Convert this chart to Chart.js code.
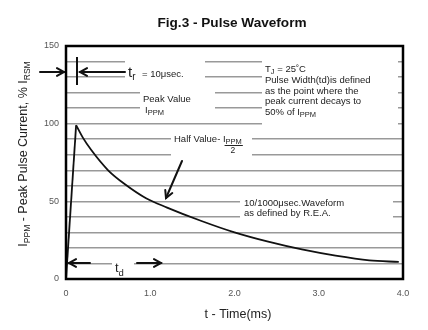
<!DOCTYPE html>
<html><head><meta charset="utf-8">
<script src="https://cdn.jsdelivr.net/npm/chart.js@4/dist/chart.umd.min.js"></script>
<style>html,body{margin:0;padding:0;background:#fff}#wrap{width:428px;height:330px}</style>
</head><body><div id="wrap"><canvas id="c" width="428" height="330"></canvas></div>
<script>
// ---- data ----
const chartTitle = "Fig.3 - Pulse Waveform";
const timeMs     = [0, 0.12, 0.2, 0.3, 0.5, 0.7, 0.95, 1.2, 1.6, 2.0, 2.4, 2.8, 3.2, 3.6, 3.95];
const currentPct = [0, 99,   91,  83,  70,  61,  52,   46,  37.5, 30, 24,  19,  15,  12,  11];
const xTickValues = [0, 1, 2, 3, 4];
const xTickLabels = ["0", "1.0", "2.0", "3.0", "4.0"];
const yTickValues = [0, 50, 100, 150];
const xTitle = "t - Time(ms)";

const FONT = "'Liberation Sans', Arial, sans-serif";
const points = timeMs.map((t, i) => ({x: t, y: currentPct[i]}));
const risePts = points.slice(0, 2);
const decayPts = points.slice(1);

function rich(ctx, x, y, parts, color) {
  let cx = x;
  for (const p of parts) {
    ctx.font = (p.bold ? 'bold ' : '') + p.size + 'px ' + FONT;
    ctx.fillStyle = color || '#222';
    ctx.textAlign = 'left';
    ctx.textBaseline = 'alphabetic';
    ctx.fillText(p.t, cx, y + (p.dy || 0));
    cx += ctx.measureText(p.t).width;
  }
  return cx;
}
function richWidth(ctx, parts) {
  let w = 0;
  for (const p of parts) { ctx.font = p.size + 'px ' + FONT; w += ctx.measureText(p.t).width; }
  return w;
}
function arrow(ctx, x1, y1, x2, y2) {
  ctx.save();
  ctx.strokeStyle = '#111'; ctx.lineWidth = 2; ctx.lineCap = 'round';
  ctx.beginPath(); ctx.moveTo(x1, y1); ctx.lineTo(x2, y2); ctx.stroke();
  const a = Math.atan2(y2 - y1, x2 - x1), L = 8, s = 0.5;
  ctx.beginPath();
  ctx.moveTo(x2 - L * Math.cos(a - s), y2 - L * Math.sin(a - s));
  ctx.lineTo(x2, y2);
  ctx.lineTo(x2 - L * Math.cos(a + s), y2 - L * Math.sin(a + s));
  ctx.stroke();
  ctx.restore();
}

const decor = {
  id: 'decor',
  beforeDatasetsDraw(chart) {
    const ctx = chart.ctx;
    ctx.save();
    ctx.fillStyle = '#fff';
    // gaps in the grid behind the annotation texts
    const gaps = [[125,55,205,84],[140,86,215,116],[262,53,398,131],[171,131,252,162],[240,195,393,224],[112,258,134,270]];
    for (const g of gaps) ctx.fillRect(g[0], g[1], g[2]-g[0], g[3]-g[1]);
    ctx.restore();
  },
  afterDatasetsDraw(chart) {
    const ctx = chart.ctx;
    ctx.save();
    const S = 9.5, sub = 7.5;
    // t_r
    rich(ctx, 128, 77, [{t:'t', size:15},{t:'r', size:10, dy:3}]);
    rich(ctx, 142, 77, [{t:'= 10μsec.', size:S}]);
    ctx.fillStyle = '#111';
    ctx.fillRect(76, 57, 2, 28);
    arrow(ctx, 40, 72, 64, 72);
    arrow(ctx, 125, 72, 80, 72);
    // Peak value
    rich(ctx, 143, 102, [{t:'Peak Value', size:S}]);
    rich(ctx, 145, 113, [{t:'I', size:S},{t:'PPM', size:sub, dy:2}]);
    // T_J block
    rich(ctx, 265, 72, [{t:'T', size:S},{t:'J', size:sub, dy:2},{t:' = 25˚C', size:S}]);
    rich(ctx, 265, 83, [{t:'Pulse Width(td)is defined', size:S}]);
    rich(ctx, 265, 93.5, [{t:'as the point where the', size:S}]);
    rich(ctx, 265, 104, [{t:'peak current decays to', size:S}]);
    rich(ctx, 265, 114.5, [{t:'50% of I', size:S},{t:'PPM', size:sub, dy:2}]);
    // Half value
    const ex = rich(ctx, 174, 142, [{t:'Half Value- I', size:S}]);
    const ex2 = rich(ctx, ex, 144, [{t:'PPM', size:sub}]);
    ctx.fillStyle = '#222'; ctx.fillRect(ex - 1, 145, ex2 - ex + 2, 1);
    rich(ctx, ex + 5, 153, [{t:'2', size:8.5}]);
    arrow(ctx, 182, 161, 166, 198);
    // REA
    rich(ctx, 244, 206, [{t:'10/1000μsec.Waveform', size:S}]);
    rich(ctx, 244, 216, [{t:'as defined by R.E.A.', size:S}]);
    // t_d
    rich(ctx, 115, 272, [{t:'t', size:13},{t:'d', size:9.5, dy:4}]);
    arrow(ctx, 90, 263, 69, 263);
    arrow(ctx, 137, 263, 161, 263);
    ctx.restore();
  },
  afterDraw(chart) {
    const ctx = chart.ctx, a = chart.chartArea;
    ctx.save();
    ctx.strokeStyle = '#000'; ctx.lineWidth = 2.5;
    ctx.strokeRect(a.left, a.top, a.right - a.left, a.bottom - a.top);
    // title
    ctx.font = 'bold 13.6px ' + FONT; ctx.fillStyle = '#111';
    ctx.textAlign = 'center'; ctx.textBaseline = 'alphabetic';
    ctx.fillText(chartTitle, 232, 27);
    // x title
    ctx.font = '12.5px ' + FONT; ctx.fillStyle = '#222';
    ctx.fillText(xTitle, 238, 318);
    // y title (rotated, with subscripts)
    const parts = [{t:'I', size:12.5},{t:'PPM', size:8.5, dy:3},{t:' - Peak Pulse Current, % I', size:12.5},{t:'RSM', size:8.5, dy:3}];
    const w = richWidth(ctx, parts);
    ctx.translate(27, 154); ctx.rotate(-Math.PI / 2);
    rich(ctx, -w / 2, 0, parts);
    ctx.restore();
  }
};

new Chart(document.getElementById('c'), {
  type: 'scatter',
  data: { datasets: [
    { data: risePts, showLine: true, borderColor: '#111', borderWidth: 1.8, pointRadius: 0, tension: 0 },
    { data: decayPts, showLine: true, borderColor: '#111', borderWidth: 1.8, pointRadius: 0, cubicInterpolationMode: 'monotone' }
  ]},
  options: {
    responsive: false, animation: false, devicePixelRatio: 1,
    layout: { padding: { top: 46, right: 25, left: 0, bottom: 0 } },
    plugins: { legend: { display: false }, tooltip: { enabled: false }, title: { display: false } },
    scales: {
      x: {
        type: 'linear', min: 0, max: 4,
        afterFit(s) { s.height = 51; },
        afterBuildTicks(s) { s.ticks = xTickValues.map(v => ({value: v})); },
        ticks: { padding: 9, color: '#555', font: { size: 9, family: FONT },
                 callback: (v) => xTickLabels[xTickValues.indexOf(v)] },
        grid: { display: false, drawTicks: false },
        border: { display: false }
      },
      y: {
        min: 0, max: 150,
        afterFit(s) { s.width = 66; },
        ticks: { stepSize: 10, padding: 7, color: '#555', font: { size: 9, family: FONT },
                 callback: (v) => yTickValues.includes(v) ? String(v) : '' },
        grid: { color: '#999', lineWidth: 1.5, drawTicks: false },
        border: { display: false }
      }
    }
  },
  plugins: [decor]
});
</script>
</body></html>
